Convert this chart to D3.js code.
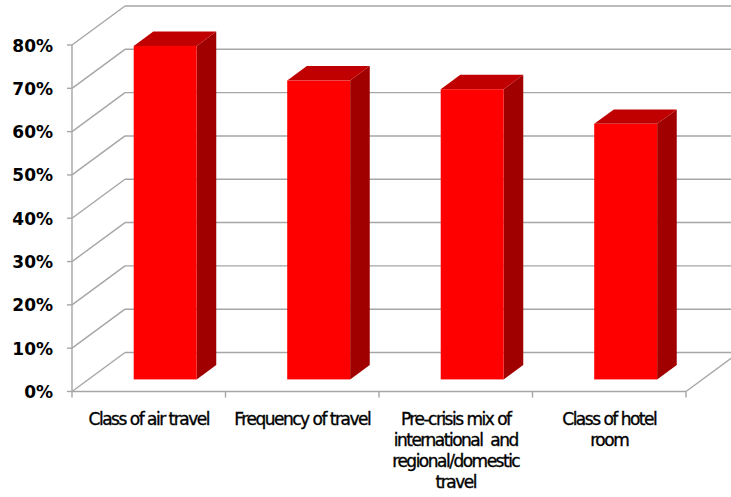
<!DOCTYPE html>
<html>
<head>
<meta charset="utf-8">
<script src="https://cdn.jsdelivr.net/npm/d3@7"></script>
<style>
  html, body { margin: 0; padding: 0; background: #fff; }
  svg { display: block; }
</style>
</head>
<body>
<div id="chart"></div>
<script>
// Share of respondents citing each factor
const categories = [
  "Class of air travel",
  "Frequency of travel",
  "Pre-crisis mix of international and regional/domestic travel",
  "Class of hotel room"
];
const values = [0.77, 0.69, 0.67, 0.59];
const yTicks = [0, 0.1, 0.2, 0.3, 0.4, 0.5, 0.6, 0.7, 0.8];
const categoryLines = [
  ["Class of air travel"],
  ["Frequency of travel"],
  ["Pre-crisis mix of", "international  and", "regional/domestic", "travel"],
  ["Class of hotel", "room"]
];

const W = 731, H = 497;
const svg = d3.select("#chart").append("svg")
  .attr("width", W).attr("height", H);

// front plane scales
const x = d3.scaleBand().domain(categories).range([72, 686]).padding(0);
const y = d3.scaleLinear().domain([0, 0.8]).range([391.5, 45]);

// oblique depth of the plot box
const depthX = 53, depthY = -39;
const zFront = 0.31, zBack = 0.68;  // bar position inside the depth
const barFrac = 0.41;               // bar width relative to band

const gridColor = "#a6a6a6";
const grid = svg.append("g").attr("fill", "none")
  .attr("stroke", gridColor).attr("stroke-width", 1.4);

// back wall gridlines
grid.selectAll("line.back").data(yTicks).join("line")
  .attr("x1", x.range()[0] + depthX).attr("x2", x.range()[1] + depthX)
  .attr("y1", d => y(d) + depthY).attr("y2", d => y(d) + depthY);

// side wall gridlines
grid.selectAll("line.side").data(yTicks).join("line")
  .attr("x1", x.range()[0]).attr("x2", x.range()[0] + depthX)
  .attr("y1", d => y(d)).attr("y2", d => y(d) + depthY);

// floor right edge
grid.append("line")
  .attr("x1", x.range()[1]).attr("x2", x.range()[1] + depthX)
  .attr("y1", y(0)).attr("y2", y(0) + depthY);

// bars
const bars = svg.append("g");
categories.forEach((c, i) => {
  const v = values[i];
  const bw = x.bandwidth() * barFrac;
  const cx = x(c) + x.bandwidth() / 2;
  const fx = cx - bw / 2 + depthX * zFront;
  const fy0 = y(0) + depthY * zFront;
  const fyT = y(v) + depthY * zFront;
  const dx = depthX * (zBack - zFront), dy = depthY * (zBack - zFront);
  const g = bars.append("g");
  // side face
  g.append("path")
    .attr("d", `M${fx + bw},${fyT} L${fx + bw + dx},${fyT + dy} L${fx + bw + dx},${fy0 + dy} L${fx + bw},${fy0} Z`)
    .attr("fill", "#a00000");
  // top face
  g.append("path")
    .attr("d", `M${fx},${fyT} L${fx + dx},${fyT + dy} L${fx + bw + dx},${fyT + dy} L${fx + bw},${fyT} Z`)
    .attr("fill", "#c00000");
  // front face
  g.append("rect")
    .attr("x", fx).attr("y", fyT)
    .attr("width", bw).attr("height", fy0 - fyT)
    .attr("fill", "#ff0000");
});

// front axes
const axes = svg.append("g").attr("stroke", gridColor).attr("stroke-width", 1.4).attr("fill", "none");
axes.append("line")
  .attr("x1", x.range()[0]).attr("x2", x.range()[0])
  .attr("y1", y(0.8)).attr("y2", y(0));
axes.append("line")
  .attr("x1", x.range()[0]).attr("x2", x.range()[1])
  .attr("y1", y(0)).attr("y2", y(0));
axes.selectAll("line.yt").data(yTicks).join("line")
  .attr("x1", x.range()[0] - 5).attr("x2", x.range()[0])
  .attr("y1", d => y(d)).attr("y2", d => y(d));
const catEdges = categories.map(c => x(c)).concat([x.range()[1]]);
axes.selectAll("line.xt").data(catEdges).join("line")
  .attr("x1", d => d).attr("x2", d => d)
  .attr("y1", y(0)).attr("y2", y(0) + 6);

// y tick labels
svg.append("g").selectAll("text").data(yTicks).join("text")
  .attr("x", 53).attr("y", d => y(d) + 6.5)
  .attr("text-anchor", "end")
  .attr("font-family", "DejaVu Sans, sans-serif")
  .attr("font-weight", "bold")
  .attr("font-size", 17)
  .attr("fill", "#000")
  .text(d3.format(".0%"));

// category labels
const cl = svg.append("g")
  .attr("font-family", "DejaVu Sans, sans-serif")
  .attr("font-size", 17)
  .attr("letter-spacing", -1.5)
  .attr("fill", "#000")
  .attr("stroke", "#000")
  .attr("stroke-width", 0.35)
  .attr("text-anchor", "middle");
categories.forEach((c, i) => {
  const t = cl.append("text")
    .attr("x", x(c) + x.bandwidth() / 2)
    .attr("y", 425)
    .attr("xml:space", "preserve");
  categoryLines[i].forEach((line, j) => {
    t.append("tspan")
      .attr("x", x(c) + x.bandwidth() / 2)
      .attr("y", 425 + j * 21)
      .text(line);
  });
});
</script>
</body>
</html>
